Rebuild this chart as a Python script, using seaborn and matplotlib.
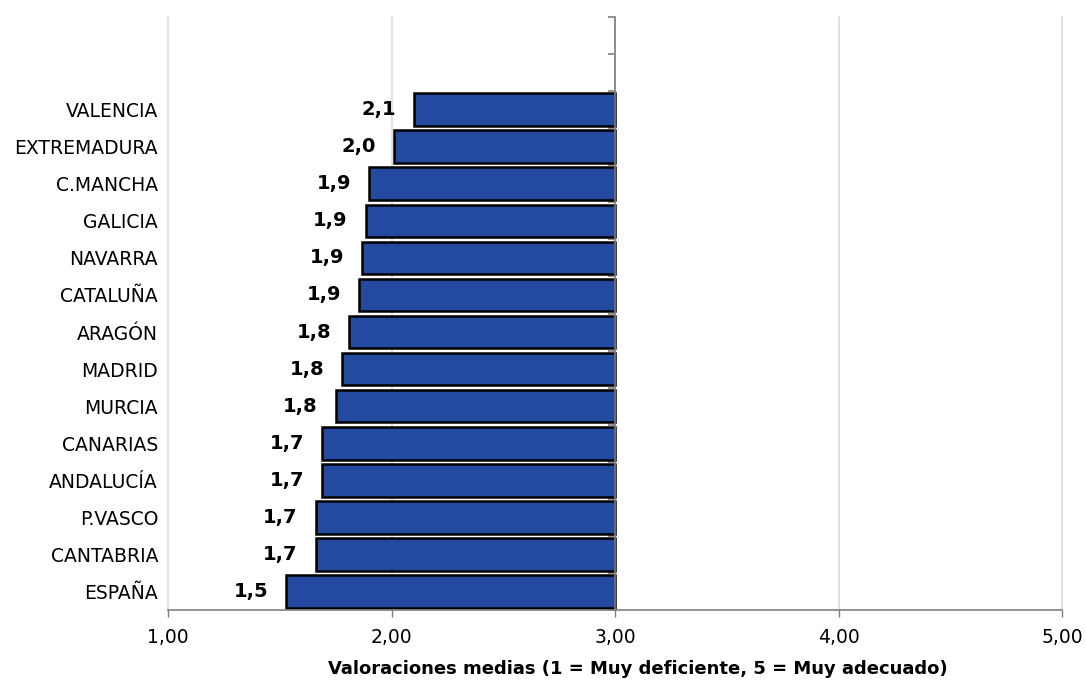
import matplotlib
matplotlib.use("Agg")
import matplotlib.pyplot as plt
import matplotlib.ticker as mticker
import seaborn as sns
import numpy as np

# Data (top to bottom)
regiones = ["VALENCIA", "EXTREMADURA", "C.MANCHA", "GALICIA", "NAVARRA", "CATALUÑA",
            "ARAGÓN", "MADRID", "MURCIA", "CANARIAS", "ANDALUCÍA", "P.VASCO",
            "CANTABRIA", "ESPAÑA"]
valores = [2.10, 2.01, 1.90, 1.885, 1.87, 1.855, 1.81, 1.78, 1.75, 1.69, 1.69, 1.66, 1.66, 1.53]
huecos = ["", " "]  # two empty category slots above VALENCIA
x_ticks = [1, 2, 3, 4, 5]
cruce = 3  # vertical axis crosses at 3
x_label = "Valoraciones medias (1 = Muy deficiente, 5 = Muy adecuado)"

sns.set_style("white")
plt.rcParams["font.family"] = ["DejaVu Sans"]
plt.rcParams["text.color"] = "black"
plt.rcParams["axes.labelcolor"] = "black"
plt.rcParams["xtick.labelcolor"] = "black"
plt.rcParams["ytick.labelcolor"] = "black"

fig = plt.figure(figsize=(10.86, 6.8), dpi=100)
ax = fig.add_axes([168 / 1086, 1 - 610 / 680, (1062 - 168) / 1086, (610 - 17) / 680])

anchos = [v - cruce for v in valores]
sns.barplot(x=anchos, y=regiones, order=huecos + regiones, orient="h", left=cruce,
            color="#234AA0", saturation=1, edgecolor="black", linewidth=1.8,
            width=0.88, ax=ax)

ax.set_xlim(1, 5)
ax.set_ylim(len(huecos) + len(regiones) - 0.5, -0.5)
ax.set_axisbelow(True)

# value labels
for i, v in enumerate(valores):
    ax.annotate(f"{v:.1f}".replace(".", ","), xy=(v, i + len(huecos)),
                xytext=(-13, 0), textcoords="offset points",
                ha="right", va="center", fontsize=14, fontweight="bold", color="black")

# x axis
ax.set_xticks(x_ticks)
ax.xaxis.set_major_formatter(mticker.FuncFormatter(lambda x, p: f"{x:.2f}".replace(".", ",")))
ax.tick_params(axis="x", direction="out", length=5, width=1, color="#808080",
               labelsize=13.5, pad=8, bottom=True)
ax.set_xlabel(x_label, fontsize=13, fontweight="bold")
ax.xaxis.set_label_coords(0.525, -0.085)
ax.grid(axis="x", color="#d9d9d9", linewidth=1.2)
ax.grid(axis="y", visible=False)
for gl in ax.get_xgridlines():
    gl.set_clip_on(False)

# y axis: line at x=3, labels pushed out to the left edge
ax.spines["left"].set_position(("data", cruce))
ax.spines["left"].set_color("#808080")
ax.spines["left"].set_linewidth(1.2)
ax.spines["bottom"].set_color("#808080")
ax.spines["bottom"].set_linewidth(1.2)
ax.spines["top"].set_visible(False)
ax.spines["right"].set_visible(False)

ax_w_px = (1062 - 168)
pad_pt = ((cruce - 1) / 4 * ax_w_px + 10) * 72 / 100
ax.tick_params(axis="y", which="major", length=0, labelsize=13.5, pad=pad_pt)
n = len(huecos) + len(regiones)
ax.set_yticks(np.arange(n + 1) - 0.5, minor=True)
ax.tick_params(axis="y", which="minor", direction="out", length=5, width=1.2, color="#808080", left=True)
ax.set_ylabel("")

fig.savefig("out.png", dpi=100)
